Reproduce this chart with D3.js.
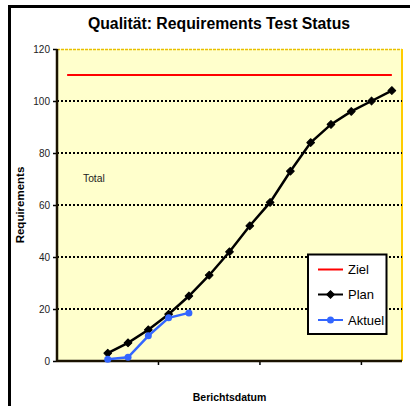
<!DOCTYPE html>
<html>
<head>
<meta charset="utf-8">
<script src="https://cdn.jsdelivr.net/npm/d3@7"></script>
<style>
  html, body { margin: 0; padding: 0; background: #fff; }
  svg { display: block; font-family: Arial, "Liberation Sans", sans-serif; }
</style>
</head>
<body>
<svg id="chart" width="410" height="406"></svg>
<script>
// ---- data ----
const categories = ["P1","P2","P3","P4","P5","P6","P7","P8","P9","P10","P11","P12","P13","P14","P15","P16","P17"];
const ziel   = [110,110,110,110,110,110,110,110,110,110,110,110,110,110,110,110,110];
const plan   = [null,null,3,7,12,18,25,33,42,52,61,73,84,91,96,100,104];
const aktuel = [null,null,0.7,1.4,9.7,16.6,18.5,null,null,null,null,null,null,null,null,null,null];
const yTicks = [0,20,40,60,80,100,120];
const seriesNames = ["Ziel","Plan","Aktuel"];

// ---- layout ----
const svg = d3.select("#chart");
const L = 57, R = 402, T = 49, B = 361;

// outer frame (cropped at right/bottom)
svg.append("rect").attr("x", 9.5).attr("y", 6.5).attr("width", 430).attr("height", 430)
  .attr("fill", "none").attr("stroke", "#000").attr("stroke-width", 3);

const x = d3.scaleBand().domain(categories).range([L, R]).paddingInner(0).paddingOuter(0);
const y = d3.scaleLinear().domain([0, 120]).range([B, T]);
const cx = i => x(categories[i]) + x.bandwidth() / 2;

// plot area
svg.append("rect").attr("x", L).attr("y", T).attr("width", R - L).attr("height", B - T)
  .attr("fill", "#FFFFCC");
svg.append("line").attr("x1", L).attr("x2", R).attr("y1", T + 0.5).attr("y2", T + 0.5)
  .attr("stroke", "#E8C000").attr("stroke-width", 1.5).attr("stroke-dasharray", "3,1");
svg.append("line").attr("x1", R).attr("x2", R).attr("y1", T).attr("y2", B)
  .attr("stroke", "#FFCC00").attr("stroke-width", 2);

// gridlines
svg.append("g").selectAll("line").data(yTicks.filter(v => v > 0 && v < 120)).join("line")
  .attr("x1", L).attr("x2", R).attr("y1", d => y(d)).attr("y2", d => y(d))
  .attr("stroke", "#000").attr("stroke-width", 2).attr("stroke-dasharray", "2,2");

// y axis
const yAxis = d3.axisLeft(y).tickValues(yTicks).tickSize(4).tickPadding(3);
const gy = svg.append("g").attr("transform", `translate(${L},0)`).call(yAxis);
gy.select(".domain").remove();
gy.selectAll(".tick line").attr("stroke", "#000").attr("stroke-width", 1.5);
gy.selectAll(".tick text").attr("font-size", 10).attr("fill", "#222")
  .attr("font-family", "Arial, 'Liberation Sans', sans-serif");

// x axis (ticks every 5 categories, no labels)
const xTickCats = categories.filter((c, i) => i % 5 === 0 && i > 0);
svg.append("g").selectAll("line").data(xTickCats).join("line")
  .attr("x1", d => x(d)).attr("x2", d => x(d)).attr("y1", B).attr("y2", B + 4)
  .attr("stroke", "#000").attr("stroke-width", 1.5);

svg.append("line").attr("x1", L).attr("x2", R).attr("y1", B).attr("y2", B)
  .attr("stroke", "#1a1200").attr("stroke-width", 2.5);
svg.append("line").attr("x1", L).attr("x2", L).attr("y1", T).attr("y2", B + 1)
  .attr("stroke", "#1a1200").attr("stroke-width", 2.5);

// series
const lineGen = d3.line().defined(d => d.v != null).x(d => cx(d.i)).y(d => y(d.v));
const toPts = arr => arr.map((v, i) => ({ i, v }));

svg.append("path").datum(toPts(ziel)).attr("d", lineGen)
  .attr("fill", "none").attr("stroke", "#FF0000").attr("stroke-width", 2);

svg.append("path").datum(toPts(plan)).attr("d", lineGen)
  .attr("fill", "none").attr("stroke", "#000").attr("stroke-width", 2.5);
const diamond = d3.symbol().type(d3.symbolSquare).size(30);
svg.append("g").selectAll("path").data(toPts(plan).filter(d => d.v != null)).join("path")
  .attr("d", diamond).attr("transform", d => `translate(${cx(d.i)},${y(d.v)}) rotate(45)`)
  .attr("fill", "#000").attr("stroke", "#000").attr("stroke-width", 1).attr("stroke-linejoin", "round");

svg.append("path").datum(toPts(aktuel)).attr("d", lineGen)
  .attr("fill", "none").attr("stroke", "#3366FF").attr("stroke-width", 2.5);
svg.append("g").selectAll("circle").data(toPts(aktuel).filter(d => d.v != null)).join("circle")
  .attr("cx", d => cx(d.i)).attr("cy", d => y(d.v)).attr("r", 3.5).attr("fill", "#3366FF");

// texts
svg.append("text").attr("x", 219).attr("y", 29).attr("text-anchor", "middle")
  .attr("font-size", 15.8).attr("font-weight", "bold").attr("fill", "#000")
  .text("Qualität: Requirements Test Status");
svg.append("text").attr("transform", `translate(24,${(T + B) / 2}) rotate(-90)`)
  .attr("text-anchor", "middle").attr("font-size", 11.5).attr("font-weight", "bold")
  .text("Requirements");
svg.append("text").attr("x", (L + R) / 2).attr("y", 401).attr("text-anchor", "middle")
  .attr("font-size", 10.5).attr("font-weight", "bold").text("Berichtsdatum");
svg.append("text").attr("x", 83).attr("y", 182).attr("font-size", 10.3).attr("fill", "#222")
  .text("Total");

// legend
const lg = svg.append("g");
lg.append("rect").attr("x", 308).attr("y", 254.5).attr("width", 78.5).attr("height", 79.5)
  .attr("fill", "#fff").attr("stroke", "#000").attr("stroke-width", 2);
const legColors = ["#FF0000", "#000", "#3366FF"];
const legY = [269.5, 294.5, 320];
seriesNames.forEach((name, k) => {
  lg.append("line").attr("x1", 318).attr("x2", 343).attr("y1", legY[k]).attr("y2", legY[k])
    .attr("stroke", legColors[k]).attr("stroke-width", 2);
  if (k === 1) lg.append("path").attr("d", diamond).attr("transform", `translate(330.5,${legY[k]}) rotate(45)`)
    .attr("fill", "#000").attr("stroke", "#000").attr("stroke-width", 1);
  if (k === 2) lg.append("circle").attr("cx", 330.5).attr("cy", legY[k]).attr("r", 3.5).attr("fill", "#3366FF");
  lg.append("text").attr("x", 348).attr("y", legY[k] + 4.5).attr("font-size", 13).attr("fill", "#000").text(name);
});
</script>
</body>
</html>
